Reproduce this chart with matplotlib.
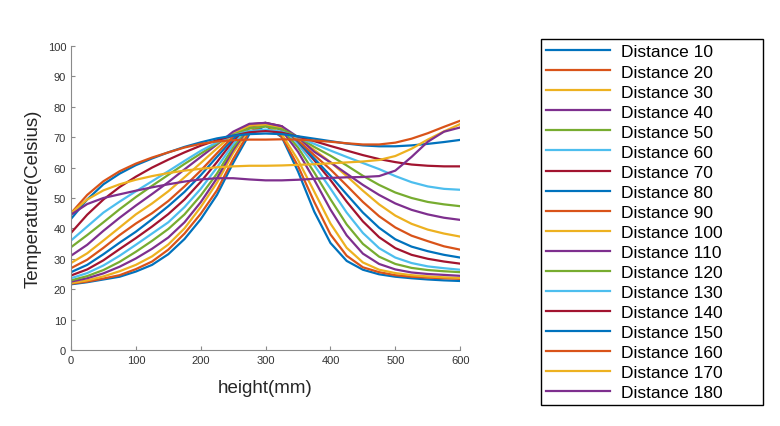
import matplotlib.pyplot as plt

# heights along the sample (mm)
height_mm = [0, 25, 50, 75, 100, 125, 150, 175, 200, 225, 250, 275, 300,
             325, 350, 375, 400, 425, 450, 475, 500, 525, 550, 575, 600]

# temperature profiles (Celsius)
t10 = [21.6, 22.3, 23.2, 24.1, 25.8, 28.0, 31.5, 36.5, 43.0, 51.0, 61.5, 71.0, 73.8,
       70.0, 58.7, 45.5, 35.2, 29.3, 26.4, 24.9, 24.1, 23.6, 23.2, 22.9, 22.7]
t20 = [21.8, 22.5, 23.5, 24.6, 26.6, 29.1, 33.0, 38.3, 44.8, 52.5, 62.8, 71.8, 74.0,
       70.2, 60.5, 48.7, 38.0, 31.0, 27.2, 25.6, 24.6, 24.1, 23.8, 23.6, 23.4]
t30 = [22.0, 22.9, 24.2, 25.9, 28.0, 30.8, 34.7, 40.0, 47.0, 55.0, 64.8, 72.8, 74.3,
       71.0, 62.5, 52.1, 41.6, 33.6, 28.8, 26.4, 25.3, 24.6, 24.2, 23.9, 23.7]
t40 = [22.5, 23.6, 25.2, 27.4, 30.1, 33.3, 37.0, 42.0, 48.6, 56.5, 65.8, 73.4, 74.6,
       72.3, 65.2, 56.0, 46.2, 37.7, 31.7, 28.3, 26.5, 25.5, 25.0, 24.7, 24.4]
t50 = [22.9, 24.3, 26.3, 29.0, 32.3, 35.9, 39.8, 44.6, 50.8, 58.0, 66.7, 73.7, 74.7,
       72.8, 66.6, 58.4, 49.6, 41.3, 34.9, 30.7, 28.3, 27.0, 26.3, 25.9, 25.6]
t60 = [23.6, 25.3, 27.8, 31.0, 34.6, 38.3, 42.0, 47.0, 53.0, 60.0, 67.7, 74.0, 74.7,
       73.3, 67.8, 60.8, 53.1, 45.2, 38.5, 33.5, 30.4, 28.6, 27.5, 26.9, 26.4]
t70 = [24.5, 26.5, 29.5, 33.2, 36.8, 40.6, 44.7, 49.5, 55.3, 61.8, 68.8, 74.2, 74.7,
       73.6, 68.6, 62.4, 55.9, 48.8, 42.3, 37.1, 33.5, 31.3, 30.0, 29.1, 28.4]
t80 = [25.6, 28.0, 31.5, 35.3, 38.9, 43.0, 47.3, 52.0, 57.5, 63.5, 69.5, 74.0, 74.4,
       73.1, 68.8, 63.0, 57.3, 51.2, 45.2, 40.2, 36.4, 34.0, 32.5, 31.3, 30.4]
t90 = [26.9, 29.7, 33.6, 37.8, 41.6, 45.0, 49.0, 53.8, 59.0, 64.7, 70.3, 74.0, 74.4,
       73.0, 69.0, 64.1, 59.4, 54.1, 48.7, 44.0, 40.3, 37.6, 35.8, 34.1, 33.0]
t100 = [28.6, 31.8, 36.0, 40.3, 44.6, 48.2, 52.2, 56.8, 61.5, 66.3, 71.0, 73.8, 74.1,
        73.0, 69.5, 65.8, 61.8, 57.2, 52.4, 47.9, 44.2, 41.5, 39.6, 38.3, 37.3]
t110 = [31.0, 34.6, 39.2, 43.5, 47.5, 51.3, 55.2, 59.4, 63.5, 67.6, 71.8, 74.4, 74.7,
        73.6, 70.0, 65.2, 61.7, 58.0, 54.3, 51.0, 48.2, 46.1, 44.6, 43.5, 42.8]
t120 = [33.8, 37.8, 42.0, 46.3, 50.3, 54.0, 57.6, 61.2, 64.6, 67.9, 70.8, 72.9, 73.5,
        72.6, 70.0, 66.8, 63.9, 60.7, 57.3, 54.3, 51.8, 50.0, 48.7, 47.9, 47.3]
t130 = [36.0, 40.6, 45.2, 48.8, 52.2, 55.5, 58.8, 62.2, 65.5, 68.3, 70.6, 72.0, 72.5,
        71.8, 69.9, 67.8, 65.6, 63.5, 61.5, 59.5, 57.2, 55.2, 53.8, 53.0, 52.7]
t140 = [38.5, 44.5, 49.5, 53.6, 57.0, 60.0, 62.6, 65.0, 67.2, 69.0, 70.5, 71.6, 72.0,
        71.5, 70.2, 68.7, 67.1, 65.6, 64.1, 62.8, 61.8, 61.0, 60.6, 60.4, 60.4]
t150 = [43.1, 49.5, 54.5, 58.0, 60.8, 63.0, 65.0, 66.8, 68.3, 69.6, 70.5, 71.0, 71.2,
        71.0, 70.3, 69.5, 68.7, 67.9, 67.3, 67.0, 67.0, 67.3, 67.8, 68.4, 69.1]
t160 = [45.0, 51.0, 55.5, 58.8, 61.3, 63.3, 65.0, 66.6, 67.8, 68.6, 69.0, 69.2, 69.2,
        69.3, 69.2, 68.9, 68.5, 68.0, 67.6, 67.6, 68.2, 69.5, 71.3, 73.4, 75.4]
t170 = [45.0, 49.5, 52.5, 54.5, 56.0, 57.2, 58.2, 59.0, 59.6, 60.1, 60.4, 60.6, 60.6,
        60.7, 60.9, 61.1, 61.4, 61.7, 62.0, 62.5, 63.8, 66.2, 69.2, 71.9, 74.3]
t180 = [44.5, 48.0, 50.0, 51.2, 52.4, 53.5, 54.5, 55.4, 56.1, 56.5, 56.5, 56.1, 55.8,
        55.8, 56.0, 56.3, 56.6, 56.8, 56.9, 57.2, 59.0, 63.5, 68.5, 71.8, 73.2]

distances = [10, 20, 30, 40, 50, 60, 70, 80, 90, 100, 110, 120, 130, 140, 150, 160, 170, 180]
profiles = [t10, t20, t30, t40, t50, t60, t70, t80, t90, t100, t110, t120,
            t130, t140, t150, t160, t170, t180]

# matlab default colour order
colors = ["#0072BD", "#D95319", "#EDB120", "#7E2F8E", "#77AC30", "#4DBEEE", "#A2142F"]

plt.rcParams['font.family'] = ['Liberation Sans', 'DejaVu Sans']

fig = plt.figure(figsize=(7.8, 4.27), dpi=100)
ax = fig.add_axes([0.091, 0.178, 0.499, 0.712])

for i, (d, t) in enumerate(zip(distances, profiles)):
    ax.plot(height_mm, t, color=colors[i % len(colors)], lw=1.6, label=f"Distance {d}")

ax.set_xlim(0, 600)
ax.set_ylim(0, 100)
ax.set_xticks(range(0, 601, 100))
ax.set_yticks(range(0, 101, 10))
ax.spines['top'].set_visible(False)
ax.spines['right'].set_visible(False)
for s in ['left', 'bottom']:
    ax.spines[s].set_color('#8a8a8a')
    ax.spines[s].set_linewidth(0.8)
ax.tick_params(direction='in', length=3, labelsize=8, colors='#8a8a8a', labelcolor='#333333')
ax.set_xlabel('height(mm)', fontsize=13.5, color='#262626', labelpad=10)
ax.set_ylabel('Temperature(Celsius)', fontsize=13.5, color='#262626', labelpad=4)

fig.legend(loc='upper left', bbox_to_anchor=(0.6936, 0.0515, 0.2846, 0.8545), mode='expand',
           borderaxespad=0, fontsize=12.5, frameon=True, fancybox=False, edgecolor='black',
           framealpha=1, handlelength=3.7, handletextpad=0.6, labelspacing=0.28, borderpad=0.3)

fig.savefig('out.png', dpi=100)
